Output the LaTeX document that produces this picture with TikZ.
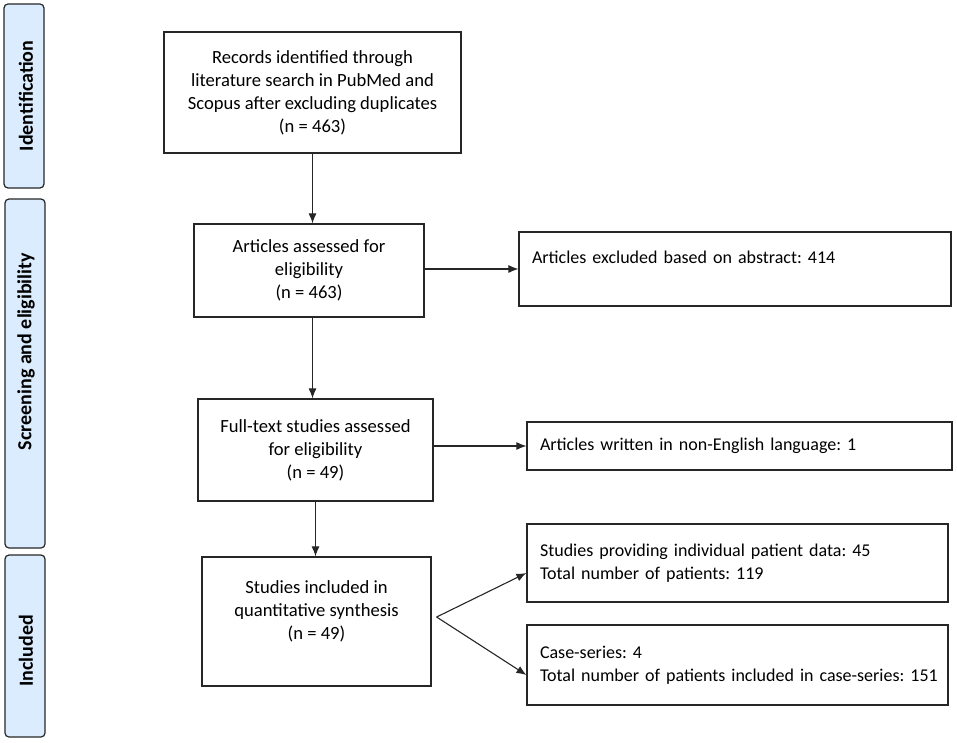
\documentclass[tikz,border=0pt]{standalone}
\usepackage{fontspec}
\setmainfont{Carlito}
\usepackage{tikz}
\usetikzlibrary{calc,positioning,arrows.meta}
\definecolor{sideblue}{RGB}{218,236,253}
\definecolor{edgegrey}{gray}{0.15}
\frenchspacing

\begin{document}
\begin{tikzpicture}[x=1pt,y=-1pt]

\tikzset{flowbox/.style={draw=edgegrey,line width=1.2pt,inner sep=0pt,align=center,font=\fontsize{18.6}{23}\selectfont},
sidebox/.style={flowbox,fill=sideblue,rounded corners=4pt,minimum width=40pt},
sidetext/.style={rotate=90,font=\bfseries\fontsize{20}{24}\selectfont},
leftbox/.style={flowbox,align=left,inner xsep=13pt,font=\fontsize{18}{23}\selectfont},
flowarrow/.style={-{Latex[length=10pt,width=8pt]},line width=1.1pt,draw=edgegrey}}

\useasboundingbox (0,0) rectangle (957,743);

% Phase bars
\node[sidebox,minimum height=184pt] (idbar) at (24,96) {};
\node[sidebox,minimum height=349pt] (screenbar) at (25,373.5) {};
\node[sidebox,minimum height=182pt] (inclbar) at (25,646) {};
\node[sidetext] (idtext) at (26,96) {Identification};
\node[sidetext] (screentext) at (26,351.5) {Screening and eligibility};
\node[sidetext] (incltext) at (26,651) {Included};

% Main column
\node[flowbox,minimum width=297pt,minimum height=121pt] (records) at (312.5,92.5)
  {Records identified through\\literature search in PubMed and\\Scopus after excluding duplicates\\(n = 463)};
\node[flowbox,minimum width=230pt,minimum height=93pt] (assessed) at (309,270.5)
  {Articles assessed for\\eligibility\\(n = 463)};
\node[flowbox,minimum width=235pt,minimum height=102pt] (fulltext) at (315.5,450)
  {Full-text studies assessed\\for eligibility\\(n = 49)};
\node[flowbox,minimum width=229pt,minimum height=129pt] (included) at (316.5,621.5)
  {Studies included in\\quantitative synthesis\\(n = 49)\\ \mbox{}};

% Side column
\node[leftbox,text width=406pt,minimum height=74pt] (abstract) at (735,269)
  {Articles excluded based on abstract: 414\\ \mbox{}};
\node[leftbox,text width=399pt,minimum height=48pt] (language) at (739.5,446)
  {Articles written in non-English language: 1};
\node[leftbox,text width=395pt,minimum height=78pt] (patients) at (737.5,563)
  {Studies providing individual patient data: 45\\Total number of patients: 119};
\node[leftbox,text width=395pt,minimum height=80pt] (caseseries) at (737.5,665)
  {Case-series: 4\\\mbox{Total number of patients included in case-series: 151}};

% Edges
\draw[flowarrow] (records.south) -- (records.south |- assessed.north);
\draw[flowarrow] (records.south |- assessed.south) -- (records.south |- fulltext.north);
\draw[flowarrow] (fulltext.south) -- (fulltext.south |- included.north);
\draw[flowarrow] (assessed.east |- abstract.west) -- (abstract.west);
\draw[flowarrow] (fulltext.east |- language.west) -- (language.west);
\coordinate (split) at ($(included.east)+(5,-4.5)$);
\draw[flowarrow] (split) -- ($(patients.west)+(0,10)$);
\draw[flowarrow] (split) -- ($(caseseries.west)+(0,10)$);

\end{tikzpicture}
\end{document}
